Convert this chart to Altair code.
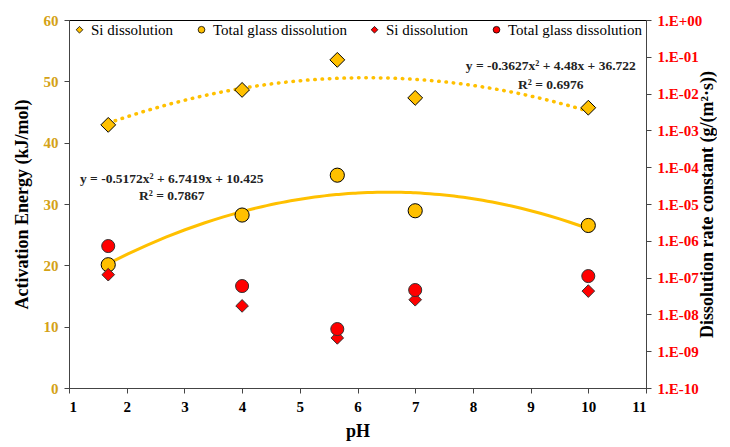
import altair as alt
import pandas as pd

# ---- data ----
ph = [1.68, 4.0, 5.65, 7.0, 10.0]
ea_si = [42.9, 48.6, 53.5, 47.3, 45.7]          # Activation energy, Si dissolution (kJ/mol)
ea_total = [20.1, 28.2, 34.7, 28.9, 26.5]       # Activation energy, total glass dissolution
k_si = [1.2e-7, 1.7e-8, 2.3e-9, 2.5e-8, 4.3e-8]  # rate constant, Si dissolution
k_total = [7.2e-7, 5.9e-8, 4.0e-9, 4.6e-8, 1.1e-7]  # rate constant, total glass dissolution

series_names = ["Si dissolution", "Total glass dissolution",
                "Si dissolution ", "Total glass dissolution "]
series_colors = ["#FFC000", "#FFC000", "#FF0000", "#FF0000"]
series_shapes = ["diamond", "circle", "diamond", "circle"]

eq_text = ["y = -0.3627x\u00b2 + 4.48x + 36.722", "R\u00b2 = 0.6976",
           "y = -0.5172x\u00b2 + 6.7419x + 10.425", "R\u00b2 = 0.7867"]
eq_ph = [9.35, 9.35, 2.78, 2.78]
eq_val = [52.5, 49.4, 34.1, 31.3]

x_ticks = list(range(1, 12))
left_ticks = [0, 10, 20, 30, 40, 50, 60]
right_ticks = [1e-10, 1e-9, 1e-8, 1e-7, 1e-6, 1e-5, 1e-4, 1e-3, 1e-2, 1e-1, 1.0]

# ---- tables ----
df_ea_si = pd.DataFrame({"pH": ph, "value": ea_si, "series": series_names[0]})
df_ea_tot = pd.DataFrame({"pH": ph, "value": ea_total, "series": series_names[1]})
df_k_si = pd.DataFrame({"pH": ph, "value": k_si, "series": series_names[2]})
df_k_tot = pd.DataFrame({"pH": ph, "value": k_total, "series": series_names[3]})
df_eq = pd.DataFrame({"pH": eq_ph, "value": eq_val, "text": eq_text})

FONT = "'Liberation Serif', 'DejaVu Serif', serif"
GOLD_TXT = "#D4A216"

x_enc = alt.X("pH:Q", scale=alt.Scale(domain=[1, 11], nice=False, zero=False),
              axis=alt.Axis(values=x_ticks, title="pH", format="d", labelColor="black",
                            titlePadding=8))

y_left = alt.Y("value:Q", scale=alt.Scale(domain=[0, 60], nice=False),
               axis=alt.Axis(values=left_ticks, title="Activation Energy (kJ/mol)",
                             labelColor=GOLD_TXT, titlePadding=12))

y_right = alt.Y("value:Q", scale=alt.Scale(type="log", domain=[1e-10, 1], nice=False),
                axis=alt.Axis(values=right_ticks, orient="right",
                              title="Dissolution rate constant (g/(m\u00b2\u00b7s))",
                              titleAngle=270, labelColor="#FF0000", titlePadding=15,
                              labelExpr="'1.E' + (round(log(datum.value)/LN10) >= 0 ? '+00' : '-' + (abs(round(log(datum.value)/LN10)) < 10 ? '0' : '') + abs(round(log(datum.value)/LN10)))"))

legend = alt.Legend(title=None, orient="none", legendX=3, legendY=2, direction="horizontal",
                    labelFont=FONT, labelFontSize=15, labelColor="black", symbolSize=45,
                    symbolStrokeColor="black", symbolStrokeWidth=0.8, columnPadding=20,
                    labelOffset=4)

color_enc = alt.Color("series:N", scale=alt.Scale(domain=series_names, range=series_colors),
                      legend=legend)
shape_enc = alt.Shape("series:N", scale=alt.Scale(domain=series_names, range=series_shapes),
                      legend=legend)

# ---- left-axis layers ----
trend_si = alt.Chart(df_ea_si).transform_regression(
    "pH", "value", method="poly", order=2
).mark_line(color="#FFC000", strokeWidth=3.5, strokeDash=[0.5, 6.8], strokeCap="round").encode(
    x=x_enc, y=y_left)

trend_tot = alt.Chart(df_ea_tot).transform_regression(
    "pH", "value", method="poly", order=2
).mark_line(color="#FFC000", strokeWidth=3).encode(x=x_enc, y=y_left)

pts_ea_si = alt.Chart(df_ea_si).mark_point(filled=True, size=220, opacity=1, stroke="black",
                                           strokeWidth=1).encode(
    x=x_enc, y=y_left, color=color_enc, shape=shape_enc)
pts_ea_tot = alt.Chart(df_ea_tot).mark_point(filled=True, size=200, opacity=1, stroke="black",
                                             strokeWidth=1).encode(
    x=x_enc, y=y_left, color=color_enc, shape=shape_enc)

eq_layer = alt.Chart(df_eq).mark_text(font=FONT, fontWeight="bold", fontSize=13.5,
                                      color="#222222").encode(
    x=x_enc, y=y_left, text="text:N")

left = alt.layer(trend_si, trend_tot, pts_ea_tot, pts_ea_si, eq_layer)

# ---- right-axis layers ----
pts_k_si = alt.Chart(df_k_si).mark_point(filled=True, size=160, opacity=1, stroke="#333333",
                                         strokeWidth=1).encode(
    x=x_enc, y=y_right, color=color_enc, shape=shape_enc)
pts_k_tot = alt.Chart(df_k_tot).mark_point(filled=True, size=170, opacity=1, stroke="#333333",
                                           strokeWidth=1).encode(
    x=x_enc, y=y_right, color=color_enc, shape=shape_enc)

right = alt.layer(pts_k_si, pts_k_tot)

chart = alt.layer(left, right).resolve_scale(y="independent").properties(
    width=577, height=368,
    padding={"left": 5, "top": 5, "right": 0, "bottom": 5}
).configure_view(stroke="black", strokeWidth=1).configure_axis(
    labelFont=FONT, labelFontWeight="bold", labelFontSize=15,
    titleFont=FONT, titleFontWeight="bold", titleFontSize=18, titleColor="black",
    domainColor="#444444", tickColor="#444444", tickSize=5, grid=False, labelPadding=6
)

chart.save("out.html", embed_options={"renderer": "svg", "actions": False})
